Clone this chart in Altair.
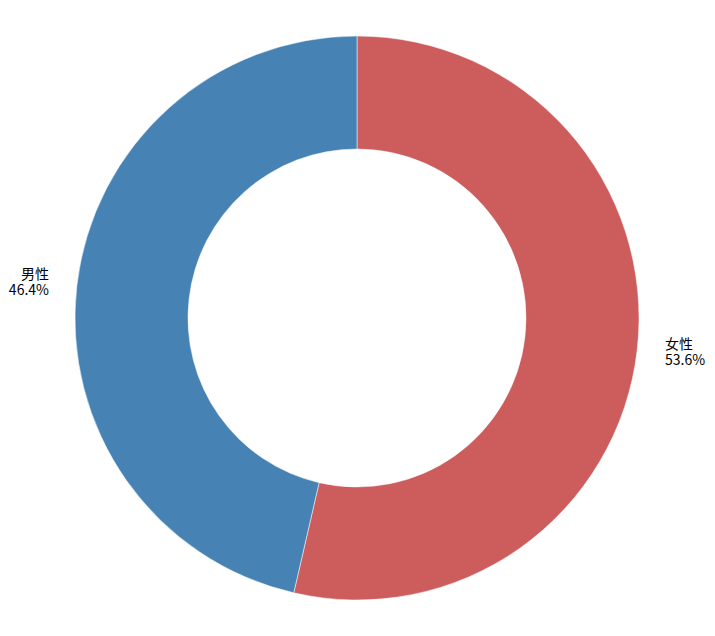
import altair as alt
import pandas as pd

categories = ["女性", "男性"]
shares = [53.6, 46.4]
colors = ["#CD5C5C", "#4682B4"]
label_align = ["left", "right"]

df = pd.DataFrame({
    "gender": categories,
    "share": shares,
    "order": list(range(len(categories))),
    "label": [f"{c}\n{v:.1f}%" for c, v in zip(categories, shares)],
})

theta_scale = alt.Scale(domain=[0, 100])

arc = alt.Chart(df).mark_arc(innerRadius=169, outerRadius=282, stroke="white", strokeWidth=0.5).encode(
    theta=alt.Theta("share:Q", stack=True, scale=theta_scale),
    order=alt.Order("order:Q"),
    color=alt.Color("gender:N", scale=alt.Scale(domain=categories, range=colors), legend=None),
)

texts = []
for cat, al in zip(categories, label_align):
    texts.append(
        alt.Chart(df)
        .transform_window(cum="sum(share)", sort=[alt.SortField("order")])
        .transform_calculate(mid="datum.cum - datum.share / 2")
        .transform_filter(alt.datum.gender == cat)
        .mark_text(
            radius=310, align=al, baseline="middle", lineBreak="\n", dy=-8,
            font="Noto Sans CJK SC", fontSize=14, color="black", lineHeight=16,
        )
        .encode(
            theta=alt.Theta("mid:Q", stack=False, scale=theta_scale),
            text="label:N",
        )
    )

chart = alt.layer(arc, *texts).properties(
    width=698, height=620, padding=0, autosize=alt.AutoSizeParams(type="none")
).configure_view(stroke=None)

chart.save("out.html", embed_options={"renderer": "svg", "actions": False})
